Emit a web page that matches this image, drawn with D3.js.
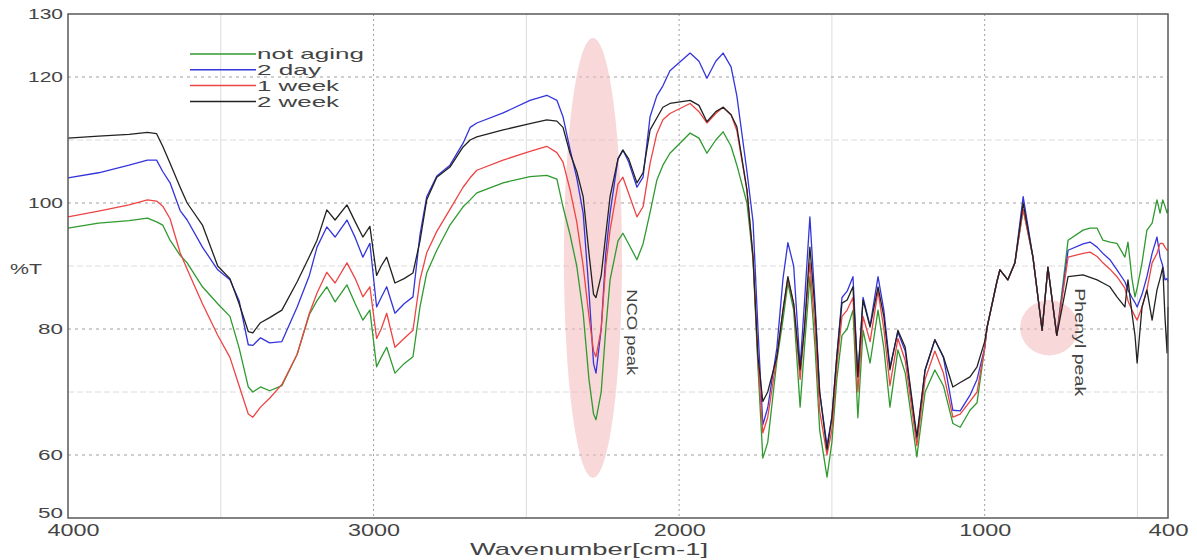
<!DOCTYPE html>
<html>
<head>
<meta charset="utf-8">
<script src="https://cdn.jsdelivr.net/npm/d3@7"></script>
<style>
  body { margin: 0; background: #fff; }
  svg text { font-family: "Liberation Sans", Arial, sans-serif; fill: #444; }
</style>
</head>
<body>
<div id="chart"></div>
<script>
// wavenumber grid shared by all four spectra (cm-1)
const wavenumbers = [
  4000, 3900, 3800, 3740, 3710, 3690, 3666, 3633, 3610, 3560,
  3510, 3470, 3440, 3410, 3395, 3370, 3340, 3300, 3250, 3210,
  3185, 3153, 3126, 3087, 3060, 3035, 3012, 2990, 2975, 2957,
  2930, 2900, 2871, 2848, 2826, 2793, 2750, 2707, 2684, 2662,
  2576, 2488, 2433, 2400, 2380, 2357, 2335, 2314, 2295, 2280,
  2272, 2255, 2240, 2226, 2200, 2184, 2165, 2138, 2118, 2095,
  2073, 2053, 2030, 1964, 1935, 1909, 1880, 1856, 1830, 1811,
  1778, 1758, 1742, 1726, 1710, 1680, 1660, 1644, 1625, 1604,
  1590, 1572, 1555, 1540, 1516, 1500, 1484, 1467, 1450, 1431,
  1415, 1398, 1375, 1349, 1330, 1310, 1284, 1260, 1222, 1195,
  1163, 1135, 1104, 1080, 1048, 1025, 1000, 992, 960, 950,
  924, 901, 874, 842, 812, 793, 764, 727, 678, 655,
  632, 613, 590, 567, 541, 531, 518, 508, 501, 485,
  469, 452, 436, 426, 417, 410, 403, 400
];

// %T values
const notAging = [
  96.0, 96.8, 97.2, 97.6, 97.0, 96.5, 94.1, 91.7, 90.5, 86.7,
  84.0, 82.0, 77.0, 70.8, 70.0, 70.8, 70.2, 71.0, 76.0, 82.3,
  84.5, 86.7, 84.3, 87.0, 84.0, 81.4, 83.0, 74.0, 75.5, 77.1,
  73.0, 74.5, 75.6, 83.5, 88.9, 92.5, 96.5, 99.4, 100.5, 101.6,
  103.2, 104.2, 104.4, 103.8, 99.4, 95.0, 90.0, 82.5, 72.0, 66.5,
  65.6, 70.0, 80.0, 87.8, 94.0, 95.2, 93.5, 91.0, 93.5, 98.5,
  103.6, 106.0, 107.9, 111.1, 110.3, 107.9, 110.0, 111.3, 109.0, 106.0,
  100.0, 91.0, 74.0, 59.5, 62.0, 75.0, 81.5, 87.3, 83.0, 67.6,
  77.0, 88.3, 77.0, 64.0, 56.5, 62.0, 72.0, 79.0, 80.0, 83.0,
  65.9, 79.8, 74.6, 83.0, 77.0, 67.6, 76.7, 73.0, 59.7, 70.0,
  73.5, 71.0, 65.0, 64.4, 67.1, 68.3, 77.0, 80.3, 87.5, 89.4,
  87.8, 90.5, 99.0, 91.4, 79.8, 89.8, 79.0, 94.1, 95.7, 96.0,
  96.0, 94.1, 93.8, 93.6, 91.4, 93.8, 88.0, 85.1, 86.5, 90.5,
  95.7, 96.8, 100.5, 98.4, 100.5, 99.5, 98.4, 99.0
];

const twoDay = [
  104.0, 104.8, 106.0, 106.8, 106.8, 105.0, 103.2, 98.8, 97.3, 93.0,
  89.4, 87.8, 84.5, 77.5, 77.4, 78.6, 77.8, 78.0, 83.5, 88.5,
  93.0, 96.2, 94.6, 97.3, 94.5, 91.4, 93.6, 83.5, 85.0, 86.7,
  82.5, 84.0, 85.1, 95.0, 101.0, 104.3, 106.0, 109.5, 112.0, 112.7,
  114.3, 116.3, 117.1, 116.3, 113.7, 108.5, 104.0, 98.4, 86.0, 74.5,
  73.0, 80.0, 92.0, 98.4, 107.0, 108.4, 106.5, 102.5, 104.1, 113.7,
  117.0, 118.6, 121.0, 123.8, 122.5, 119.8, 122.5, 123.8, 121.6, 117.0,
  105.0, 97.0, 80.0, 64.8, 67.5, 77.0, 88.0, 93.7, 90.0, 74.0,
  84.0, 97.8, 84.0, 70.0, 61.5, 66.0, 75.6, 85.0, 86.0, 88.3,
  72.5, 85.0, 80.5, 88.3, 83.0, 74.0, 79.5, 76.5, 62.5, 73.5,
  78.3, 75.5, 67.1, 67.0, 69.5, 72.0, 77.0, 80.3, 87.5, 89.4,
  87.8, 90.5, 101.0, 91.4, 79.8, 89.8, 79.0, 92.5, 93.5, 93.8,
  93.0, 92.0, 91.0, 89.4, 87.5, 86.2, 85.0, 84.2, 83.5, 85.5,
  88.3, 92.0, 94.6, 91.4, 90.0, 87.8, 88.0, 87.5
];

const oneWeek = [
  97.8, 98.7, 99.7, 100.5, 100.3, 99.5, 97.5, 92.1, 89.5, 84.0,
  79.0, 75.5, 71.0, 66.5, 66.0, 67.6, 69.0, 71.2, 76.0, 82.5,
  85.7, 89.0, 87.3, 90.5, 88.0, 85.1, 86.7, 78.5, 80.0, 82.5,
  77.1, 78.5, 79.8, 87.8, 92.1, 95.5, 99.0, 102.5, 104.0, 105.2,
  106.8, 108.2, 109.0, 108.0, 106.5, 102.1, 97.0, 90.0, 82.0, 76.5,
  75.6, 80.0, 90.0, 95.7, 103.0, 104.1, 101.5, 97.8, 99.4, 106.3,
  111.0, 113.2, 114.2, 115.8, 114.5, 112.7, 114.2, 115.2, 114.0, 111.5,
  102.0, 91.4, 75.0, 63.5, 66.0, 75.6, 83.0, 88.0, 84.0, 72.0,
  80.0, 90.5, 80.0, 67.0, 60.0, 64.0, 74.0, 82.0, 83.0, 85.0,
  70.0, 82.0, 78.0, 86.0, 80.0, 71.0, 78.5, 75.0, 61.5, 72.0,
  76.5, 73.0, 66.0, 66.5, 68.5, 70.0, 77.0, 80.3, 87.5, 89.4,
  87.8, 90.5, 99.0, 91.4, 79.8, 89.8, 79.0, 91.4, 92.0, 92.2,
  91.5, 90.5, 89.5, 88.3, 86.5, 84.5, 83.0, 82.0, 81.4, 83.5,
  86.2, 90.5, 92.0, 93.6, 93.6, 93.0, 92.5, 92.5
];

const twoWeek = [
  110.3, 110.6, 110.9, 111.2, 111.0, 109.0, 106.3, 102.5, 100.0, 96.5,
  90.0, 88.0, 84.0, 79.6, 79.4, 81.0, 81.8, 83.0, 87.5, 91.5,
  94.1, 98.9, 97.3, 99.7, 97.0, 94.6, 96.3, 88.5, 90.0, 91.4,
  87.3, 88.0, 88.9, 94.0, 100.5, 104.1, 105.7, 108.9, 110.0, 110.5,
  111.6, 112.6, 113.2, 113.0, 112.0, 107.9, 105.0, 101.0, 92.0, 85.5,
  85.0, 88.5, 95.0, 101.0, 107.0, 108.4, 107.0, 103.2, 104.8, 111.6,
  113.5, 115.2, 115.8, 116.3, 115.5, 112.9, 114.5, 115.2, 114.0, 112.1,
  102.1, 91.4, 75.6, 68.5, 70.0, 75.6, 83.0, 88.3, 84.0, 73.5,
  80.0, 93.0, 83.0, 70.0, 60.8, 66.0, 75.6, 84.1, 84.6, 86.7,
  72.4, 84.6, 80.3, 86.7, 82.0, 73.5, 79.8, 77.1, 62.9, 73.5,
  78.3, 75.6, 70.8, 71.5, 72.4, 74.0, 78.0, 80.3, 87.5, 89.4,
  87.8, 90.5, 100.0, 91.4, 79.8, 89.8, 79.0, 88.3, 88.6, 88.2,
  87.8, 87.3, 86.7, 85.1, 83.5, 87.8, 82.5, 79.0, 74.6, 83.5,
  86.2, 81.4, 86.2, 88.0, 89.8, 82.0, 76.2, 83.5
];

const seriesLabels = ["not aging", "2 day", "1 week", "2 week"];
const xTickValues = [4000, 3000, 2000, 1000, 400];
const yTickValues = [130, 120, 100, 80, 60, 50];
const xGridMajor = [3000, 2000, 1000];
const xGridMinor = [3500, 2500, 1500, 500];
const yGridMajor = [120, 100, 80, 60];
const yGridMinor = [110, 90, 70];

class SpectrumChart {
  constructor(_config) {
    this.config = {
      parentElement: _config.parentElement || "#chart",
      containerWidth: _config.containerWidth || 1197,
      containerHeight: _config.containerHeight || 560,
      margin: _config.margin || { top: 14, right: 29, bottom: 42, left: 68 },
      colors: ["#2f9a2f", "#3434dc", "#ee4444", "#222222"],
    };
    this.init();
  }

  init() {
    let vis = this;
    vis.width = vis.config.containerWidth - vis.config.margin.left - vis.config.margin.right;
    vis.height = vis.config.containerHeight - vis.config.margin.top - vis.config.margin.bottom;

    vis.svg = d3
      .select(vis.config.parentElement)
      .append("svg")
      .attr("width", vis.config.containerWidth)
      .attr("height", vis.config.containerHeight);

    vis.chart = vis.svg
      .append("g")
      .attr("transform", `translate(${vis.config.margin.left},${vis.config.margin.top})`);

    vis.x = d3.scaleLinear().domain([4000, 400]).range([0, vis.width]);
    vis.y = d3.scaleLinear().domain([50, 130]).range([vis.height, 0]);

    vis.series = [notAging, twoDay, oneWeek, twoWeek].map((vals, i) => ({
      label: seriesLabels[i],
      color: vis.config.colors[i],
      values: wavenumbers.map((w, j) => ({ w: w, v: vals[j] })),
    }));

    vis.render();
  }

  render() {
    let vis = this;

    // grid
    vis.chart.append("g").selectAll("line").data(xGridMinor).join("line")
      .attr("x1", (d) => vis.x(d)).attr("x2", (d) => vis.x(d))
      .attr("y1", 0).attr("y2", vis.height)
      .attr("stroke", "#dcdcdc");
    vis.chart.append("g").selectAll("line").data(yGridMinor).join("line")
      .attr("x1", 0).attr("x2", vis.width)
      .attr("y1", (d) => vis.y(d)).attr("y2", (d) => vis.y(d))
      .attr("stroke", "#dcdcdc").attr("stroke-dasharray", "6,3");
    vis.chart.append("g").selectAll("line").data(xGridMajor).join("line")
      .attr("x1", (d) => vis.x(d)).attr("x2", (d) => vis.x(d))
      .attr("y1", 0).attr("y2", vis.height)
      .attr("stroke", "#a0a0a0").attr("stroke-dasharray", "2,3");
    vis.chart.append("g").selectAll("line").data(yGridMajor).join("line")
      .attr("x1", 0).attr("x2", vis.width)
      .attr("y1", (d) => vis.y(d)).attr("y2", (d) => vis.y(d))
      .attr("stroke", "#a0a0a0").attr("stroke-dasharray", "3,4");

    // highlighted regions
    const ann = vis.chart.append("g");
    ann.append("ellipse")
      .attr("cx", vis.x(2282)).attr("cy", vis.y(91.3))
      .attr("rx", vis.x(2282) - vis.x(2377)).attr("ry", vis.y(56.4) - vis.y(91.3))
      .attr("fill", "#f2b8b8").attr("opacity", 0.55);
    ann.append("ellipse")
      .attr("cx", vis.x(789)).attr("cy", vis.y(80.2))
      .attr("rx", vis.x(789) - vis.x(884)).attr("ry", vis.y(75.8) - vis.y(80.2))
      .attr("fill", "#f2b8b8").attr("opacity", 0.55);

    // spectra
    const line = d3.line().x((d) => vis.x(d.w)).y((d) => vis.y(d.v));
    vis.chart.append("g").selectAll("path").data(vis.series).join("path")
      .attr("d", (d) => line(d.values))
      .attr("fill", "none")
      .attr("stroke", (d) => d.color)
      .attr("stroke-width", 1.3)
      .attr("stroke-linejoin", "round");

    // peak labels
    const peakLabels = [
      { text: "NCO peak", w: 2155, v: 79.5, len: 86 },
      { text: "Phenyl peak", w: 688, v: 77.9, len: 108 },
    ];
    vis.chart.append("g").selectAll("text").data(peakLabels).join("text")
      .attr("transform", (d) => `translate(${vis.x(d.w)},${vis.y(d.v)}) rotate(90)`)
      .attr("text-anchor", "middle")
      .attr("dy", "0.35em")
      .attr("textLength", (d) => d.len)
      .attr("lengthAdjust", "spacingAndGlyphs")
      .style("font-size", "15px")
      .text((d) => d.text);

    // frame
    vis.chart.append("rect")
      .attr("width", vis.width).attr("height", vis.height)
      .attr("fill", "none").attr("stroke", "#5a5a5a").attr("stroke-width", 1.5);

    // axes
    const xAxis = vis.chart.append("g")
      .attr("transform", `translate(0,${vis.height})`)
      .call(d3.axisBottom(vis.x).tickValues(xTickValues).tickSize(0).tickPadding(7).tickFormat(d3.format("d")));
    xAxis.select(".domain").remove();
    xAxis.selectAll("text")
      .style("font-size", "16px")
      .attr("fill", "#444")
      .attr("dx", (d) => (d === 4000 ? 5 : 0))
      .attr("textLength", (d) => (d >= 1000 ? 52 : 40))
      .attr("lengthAdjust", "spacingAndGlyphs");

    const yAxis = vis.chart.append("g")
      .call(d3.axisLeft(vis.y).tickValues(yTickValues).tickSize(0).tickPadding(5));
    yAxis.select(".domain").remove();
    yAxis.selectAll("text")
      .style("font-size", "14px")
      .attr("fill", "#444")
      .attr("y", (d) => (d === 50 ? -5 : 0))
      .attr("textLength", (d) => (d >= 100 ? 35 : 25))
      .attr("lengthAdjust", "spacingAndGlyphs");

    // axis labels
    vis.svg.append("text")
      .attr("x", 589).attr("y", 555)
      .attr("text-anchor", "middle")
      .attr("textLength", 238).attr("lengthAdjust", "spacingAndGlyphs")
      .style("font-size", "17px")
      .text("Wavenumber[cm-1]");
    vis.svg.append("text")
      .attr("x", 26).attr("y", 274)
      .attr("text-anchor", "middle")
      .attr("textLength", 32).attr("lengthAdjust", "spacingAndGlyphs")
      .style("font-size", "15px")
      .text("%T");

    // legend
    const legend = vis.svg.append("g").attr("transform", "translate(190,54)");
    const rows = legend.selectAll("g").data(vis.series).join("g")
      .attr("transform", (d, i) => `translate(0,${i * 15.8})`);
    rows.append("line")
      .attr("x1", 0).attr("x2", 66)
      .attr("stroke", (d) => d.color).attr("stroke-width", 1.5);
    const legendLen = [107, 64, 82, 82];
    rows.append("text")
      .attr("x", 67).attr("dy", "0.35em")
      .attr("textLength", (d, i) => legendLen[i])
      .attr("lengthAdjust", "spacingAndGlyphs")
      .style("font-size", "15px")
      .text((d) => d.label);
  }
}

new SpectrumChart({ parentElement: "#chart" });
</script>
</body>
</html>
